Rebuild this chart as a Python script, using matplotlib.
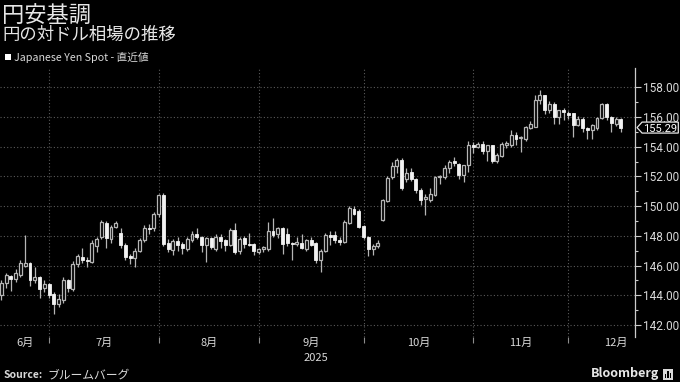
import numpy as np
import pandas as pd
import matplotlib
matplotlib.use("Agg")
import matplotlib.pyplot as plt
from matplotlib.patches import Polygon, Rectangle
from matplotlib.transforms import blended_transform_factory
from matplotlib.ticker import FixedLocator

plt.rcParams['font.family'] = ['Noto Sans CJK JP', 'DejaVu Sans']

# daily candles, 2025-06-17 .. 2025-12-16 (weekdays)
dates = pd.bdate_range('2025-06-17', '2025-12-16')

opens = [144.0, 144.8, 145.3, 145.1, 145.4, 146.0, 146.2, 145.0, 145.25, 144.5,
         144.75, 144.1, 143.4, 143.7, 145.0, 144.4, 146.1, 146.6, 146.35, 146.25,
         147.3, 147.95, 148.9, 147.8, 148.6, 148.2, 147.4, 146.65, 146.5, 147.0,
         147.7, 148.55, 148.5, 149.45, 150.75, 147.5, 147.05, 147.65, 147.45, 147.15,
         147.7, 148.15, 147.9, 147.4, 147.85, 147.15, 147.9, 147.7, 147.4, 148.4,
         146.95, 147.85, 147.4, 147.45, 146.9, 147.1, 147.15, 148.3, 148.1, 148.5,
         148.1, 147.55, 147.45, 147.5, 147.15, 147.75, 147.5, 146.4, 146.95, 148.05,
         148.05, 147.75, 147.6, 148.9, 149.8, 149.7, 148.65, 147.95, 147.1, 147.3,
         149.1, 150.35, 151.95, 152.7, 153.1, 151.8, 152.3, 151.85, 151.1, 150.45,
         150.4, 150.75, 151.95, 151.95, 152.6, 153.05, 152.85, 152.1, 152.75, 154.1,
         154.0, 154.2, 153.7, 154.1, 153.05, 153.4, 154.15, 154.15, 154.8, 154.6,
         154.5, 155.25, 155.35, 157.15, 157.45, 156.45, 156.9, 156.0, 156.45, 156.3,
         156.25, 155.45, 155.9, 155.25, 155.1, 155.25, 155.95, 156.9, 156.0, 155.55,
         155.9]
closes = [144.8, 145.35, 145.1, 145.5, 146.2, 146.2, 145.0, 145.25, 144.45, 144.75,
          144.0, 143.4, 143.75, 145.0, 144.5, 146.1, 146.65, 146.4, 146.3, 147.5,
          147.8, 148.95, 147.85, 148.6, 148.9, 147.4, 146.6, 146.5, 147.0, 147.7,
          148.55, 148.45, 149.5, 150.75, 147.45, 147.1, 147.65, 147.4, 147.2, 147.8,
          148.15, 147.9, 147.4, 147.85, 147.25, 147.95, 147.65, 147.4, 148.4, 146.9,
          147.8, 147.45, 147.38, 146.95, 147.1, 147.25, 148.3, 148.05, 148.5, 147.45,
          147.5, 147.45, 147.6, 147.2, 147.7, 147.4, 146.4, 147.0, 148.05, 147.95,
          147.7, 147.6, 148.95, 149.85, 149.5, 148.6, 147.95, 147.1, 147.3, 147.5,
          150.4, 151.9, 152.7, 153.1, 151.2, 152.25, 151.85, 151.1, 150.4, 150.65,
          150.85, 151.95, 152.0, 152.6, 152.95, 152.9, 152.1, 152.75, 154.1, 153.95,
          154.2, 153.7, 154.1, 153.05, 153.45, 154.2, 154.17, 154.8, 154.55, 154.62,
          155.3, 155.55, 157.15, 157.45, 156.45, 156.9, 156.0, 156.45, 156.35, 156.15,
          155.45, 155.9, 155.25, 155.1, 155.45, 155.95, 156.9, 156.0, 155.6, 155.9,
          155.29]
highs = [145.0, 145.5, 145.4, 145.8, 146.4, 148.05, 146.25, 145.9, 145.3, 145.0,
         144.8, 144.2, 144.1, 145.2, 145.1, 146.3, 146.8, 147.2, 146.6, 147.7,
         147.9, 149.1, 149.0, 148.7, 149.0, 148.5, 147.5, 146.8, 147.2, 147.85,
         148.7, 148.8, 149.6, 150.85, 150.9, 147.8, 147.8, 147.9, 147.6, 147.9,
         148.3, 148.55, 148.0, 147.95, 147.95, 148.1, 148.1, 147.8, 148.5, 148.85,
         147.9, 148.0, 148.2, 147.5, 147.2, 147.35, 148.95, 149.2, 148.6, 148.6,
         148.5, 147.6, 147.9, 148.1, 147.8, 147.9, 147.6, 147.1, 148.2, 148.3,
         148.3, 147.9, 149.1, 150.0, 150.0, 149.8, 148.7, 148.0, 147.45, 147.7,
         150.5, 152.0, 152.95, 153.25, 153.25, 152.6, 152.55, 151.9, 151.2, 150.8,
         151.2, 152.05, 152.1, 152.8, 153.1, 153.3, 152.9, 152.8, 154.4, 154.3,
         154.3, 154.4, 154.15, 154.15, 153.55, 154.3, 154.4, 155.1, 155.0, 154.7,
         155.4, 155.7, 157.5, 157.85, 157.5, 157.1, 157.0, 156.5, 156.6, 156.4,
         156.3, 156.1, 156.0, 155.3, 155.5, 156.0, 156.95, 156.95, 156.05, 156.0,
         155.95]
lows = [143.7, 144.5, 144.3, 144.9, 145.2, 145.9, 144.6, 144.8, 143.8, 144.2,
        143.8, 142.75, 143.2, 143.5, 144.2, 144.3, 145.9, 146.2, 145.9, 146.2,
        146.9, 147.8, 147.2, 147.5, 148.5, 147.2, 146.4, 146.1, 145.9, 146.9,
        147.6, 148.1, 148.3, 149.3, 147.3, 146.9, 146.7, 147.0, 146.8, 147.0,
        147.6, 147.8, 146.9, 146.25, 147.1, 147.0, 147.2, 147.0, 147.3, 146.8,
        146.8, 147.2, 147.3, 146.7, 146.8, 146.9, 147.0, 147.9, 147.85, 146.8,
        147.3, 146.4, 147.3, 147.1, 147.0, 147.3, 146.2, 145.6, 146.9, 147.4,
        147.5, 147.4, 147.5, 148.8, 149.4, 148.5, 147.8, 146.65, 146.7, 147.2,
        149.0, 150.3, 151.8, 152.2, 151.1, 151.6, 151.7, 150.9, 150.1, 149.4,
        150.3, 150.7, 151.5, 151.8, 152.2, 152.7, 151.8, 151.6, 152.3, 153.6,
        153.9, 153.5, 153.05, 152.9, 152.9, 153.3, 153.9, 154.0, 154.1, 153.65,
        154.4, 155.2, 155.3, 156.9, 156.2, 156.3, 155.5, 155.5, 155.8, 155.9,
        154.65, 155.4, 155.0, 154.55, 154.5, 155.1, 155.9, 155.8, 155.0, 155.4,
        155.0]

month_labels = ['6月', '7月', '8月', '9月', '10月', '11月', '12月']
y_ticks = [142, 144, 146, 148, 150, 152, 154, 156, 158]
last_value = closes[-1]

bg = 'black'
txt = '#d9d9d9'
grid_c = '#5a5a5a'

fig = plt.figure(figsize=(6.8, 3.82), dpi=100, facecolor=bg)
ax = fig.add_axes([0.0, 0.118, 0.934, 0.704], facecolor=bg)

x = np.arange(len(dates))
o = np.array(opens); c = np.array(closes)
h = np.array(highs); l = np.array(lows)
up = c >= o

# wicks
ax.vlines(x, l, h, color='#b5b5b5', linewidth=0.9, zorder=2)
# bodies
bottom = np.minimum(o, c)
height = np.maximum(np.abs(c - o), 0.07)
ax.bar(x[up], height[up], bottom=bottom[up], width=0.62,
       facecolor=bg, edgecolor='#b5b5b5', linewidth=0.9, zorder=3)
ax.bar(x[~up], height[~up], bottom=bottom[~up], width=0.62,
       facecolor='#f2f2f2', edgecolor='#f2f2f2', linewidth=0.6, zorder=3)

ax.set_xlim(-0.3, 133)
ax.set_ylim(141.2, 159.3)

# month boundaries
months = dates.to_period('M')
starts = [i for i in range(1, len(dates)) if months[i] != months[i - 1]]
ax.set_xticks(starts)
ax.set_xticklabels([])
ax.tick_params(axis='x', colors='#8c8c8c', length=4, width=0.8, direction='out')
for s in starts:
    ax.axvline(s, color=grid_c, linestyle=(0, (1, 2)), linewidth=0.8, zorder=1)

edges = [0] + starts + [len(dates) + 9]
trans = blended_transform_factory(ax.transData, ax.transAxes)
for k, lab in enumerate(month_labels):
    a, b = edges[k], edges[k + 1]
    xm = (a + b) / 2 if k < len(month_labels) - 1 else a + 10
    ax.text(xm, -0.022, lab, transform=trans, ha='center', va='center',
            fontsize=8, color=txt)
ax.text((edges[3] + edges[4]) / 2 + 1, -0.078, '2025', transform=trans,
        ha='center', va='center', fontsize=8, color=txt)

# y axis on the right
ax.yaxis.tick_right()
ax.set_yticks(y_ticks)
ax.set_yticklabels(['%.2f' % v for v in y_ticks], fontfamily='Roboto')
ax.yaxis.set_minor_locator(FixedLocator([v + 1 for v in y_ticks[:-1]]))
ax.tick_params(axis='y', which='major', colors='#cccccc', labelcolor=txt,
               labelsize=8.5, length=4, width=0.8, pad=1.5)
ax.tick_params(axis='y', which='minor', colors='#cccccc', length=2, width=0.8)
for v in y_ticks:
    ax.axhline(v, color=grid_c, linestyle=(0, (1, 2)), linewidth=0.8, zorder=1)

for sp in ['top', 'left', 'bottom']:
    ax.spines[sp].set_visible(False)
ax.spines['right'].set_color('#cccccc')
ax.spines['right'].set_linewidth(0.9)

# last value tag
tr2 = blended_transform_factory(ax.transAxes, ax.transData)
hh = 0.37
tag = Polygon([[1.003, last_value], [1.011, last_value + hh], [1.068, last_value + hh],
               [1.068, last_value - hh], [1.011, last_value - hh]],
              closed=True, transform=tr2, facecolor=bg, edgecolor='#e6e6e6',
              linewidth=0.9, clip_on=False, zorder=5)
ax.add_patch(tag)
ax.text(1.040, last_value - 0.1, '%.2f' % last_value, transform=tr2, ha='center',
        va='center', fontsize=8, fontfamily='Roboto', color='white',
        zorder=6, clip_on=False)

# titles
fig.text(2 / 680, 1 - 16 / 382, '円安基調', fontsize=16, color='#e6e6e6',
         ha='left', va='center')
fig.text(2 / 680, 1 - 35 / 382, '円の対ドル相場の推移', fontsize=12.5, color='#e6e6e6',
         ha='left', va='center')
fig.patches.append(Rectangle((5 / 680, 1 - 60 / 382), 6 / 680, 6 / 382,
                             transform=fig.transFigure, facecolor='white',
                             edgecolor='none'))
fig.text(14 / 680, 1 - 57 / 382, 'Japanese Yen Spot - 直近値', fontsize=7.7,
         color=txt, ha='left', va='center')

# footer
fig.text(4 / 680, 1 - 375 / 382, 'Source:', fontsize=7.5, color=txt,
         fontweight='bold', ha='left', va='center')
fig.text(47 / 680, 1 - 375 / 382, 'ブルームバーグ', fontsize=8.5, color=txt,
         ha='left', va='center')
fig.text(659 / 680, 1 - 374 / 382, 'Bloomberg', fontsize=9, color='#e6e6e6',
         fontweight='bold', ha='right', va='center')
fig.patches.append(Rectangle((663 / 680, 1 - 380 / 382), 10 / 680, 11 / 382,
                             transform=fig.transFigure, facecolor='#d9d9d9',
                             edgecolor='none'))
for i, bh in enumerate([4, 7, 5]):
    fig.patches.append(Rectangle(((665 + i * 2.4) / 680, 1 - 378 / 382), 1.4 / 680, bh / 382,
                                 transform=fig.transFigure, facecolor=bg,
                                 edgecolor='none'))

fig.savefig('out.png', dpi=100, facecolor=bg)
